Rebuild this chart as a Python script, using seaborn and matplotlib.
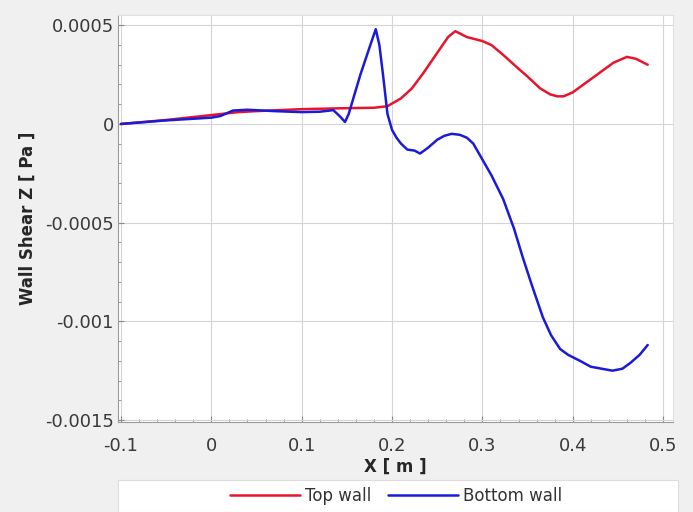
import numpy as np
import pandas as pd
import seaborn as sns
import matplotlib.pyplot as plt
from matplotlib.ticker import MultipleLocator, FuncFormatter
from matplotlib.patches import Rectangle

# Top wall
top_x = [-0.1, -0.05, 0.0, 0.03, 0.05, 0.1, 0.15, 0.18, 0.195, 0.21, 0.222, 0.235,
         0.25, 0.262, 0.27, 0.283, 0.30, 0.31, 0.323, 0.34, 0.35, 0.364, 0.375,
         0.383, 0.39, 0.40, 0.415, 0.43, 0.445, 0.46, 0.47, 0.483]
top_y = [0, 0.00002, 0.000045, 0.00006, 0.000065, 0.000075, 0.00008, 0.000082,
         0.00009, 0.00013, 0.00018, 0.00026, 0.00036, 0.00044, 0.00047, 0.00044,
         0.00042, 0.0004, 0.00035, 0.00028, 0.00024, 0.00018, 0.00015, 0.00014,
         0.00014, 0.00016, 0.00021, 0.00026, 0.00031, 0.00034, 0.00033, 0.0003]

# Bottom wall
bot_x = [-0.1, -0.05, 0.0, 0.01, 0.024, 0.04, 0.07, 0.1, 0.12, 0.135, 0.142, 0.148,
         0.152, 0.165, 0.176, 0.182, 0.186, 0.19, 0.195, 0.2, 0.205, 0.21, 0.217,
         0.225, 0.231, 0.24, 0.25, 0.258, 0.266, 0.275, 0.283, 0.29, 0.30, 0.31,
         0.323, 0.335, 0.345, 0.355, 0.367, 0.376, 0.386, 0.395, 0.408, 0.42,
         0.432, 0.444, 0.455, 0.464, 0.474, 0.483]
bot_y = [0, 0.000018, 0.000032, 0.00004, 0.000068, 0.000072, 0.000065, 0.00006,
         0.000062, 0.00007, 0.00004, 0.00001, 0.00005, 0.00025, 0.0004, 0.00048,
         0.0004, 0.00025, 0.00005, -0.00003, -0.00007, -0.0001, -0.00013, -0.000135,
         -0.00015, -0.00012, -0.00008, -0.00006, -0.00005, -0.000055, -0.00007,
         -0.0001, -0.00018, -0.00026, -0.00038, -0.00053, -0.00068, -0.00082,
         -0.00098, -0.00107, -0.00114, -0.00117, -0.0012, -0.00123, -0.00124,
         -0.00125, -0.00124, -0.00121, -0.00117, -0.00112]

df = pd.concat([
    pd.DataFrame({'x': top_x, 'y': top_y, 'wall': 'Top wall'}),
    pd.DataFrame({'x': bot_x, 'y': bot_y, 'wall': 'Bottom wall'}),
])

sns.set_style('whitegrid', {'grid.color': '#d4d4d4', 'axes.edgecolor': '#9a9a9a'})
plt.rcParams['font.family'] = ['DejaVu Sans']

fig = plt.figure(figsize=(6.93, 5.12), dpi=100, facecolor='#f0f0f0')
ax = fig.add_axes([118/693, 1 - 422/512, (673-118)/693, (422-15)/512])
ax.set_facecolor('white')

sns.lineplot(data=df, x='x', y='y', hue='wall', ax=ax, linewidth=1.8,
             palette={'Top wall': '#e8142c', 'Bottom wall': '#1a1ad8'}, legend=False)

ax.set_xlim(-0.1033, 0.511)
ax.set_ylim(-0.00151, 0.000552)
ax.xaxis.set_major_locator(MultipleLocator(0.1))
ax.xaxis.set_minor_locator(MultipleLocator(0.02))
ax.yaxis.set_major_locator(MultipleLocator(0.0005))
ax.yaxis.set_minor_locator(MultipleLocator(0.0001))

def fmt(v, pos):
    s = ('%.4f' % v).rstrip('0').rstrip('.')
    return '0' if s in ('0', '-0') else s
ax.xaxis.set_major_formatter(FuncFormatter(fmt))
ax.yaxis.set_major_formatter(FuncFormatter(fmt))

ax.tick_params(which='both', direction='in', color='#8a8a8a', labelsize=13,
               labelcolor='#3a3a3a', left=True, bottom=True)
ax.tick_params(which='major', length=4, pad=3)
ax.tick_params(axis='x', which='major', pad=11)
ax.tick_params(which='minor', length=2.5)
ax.grid(True, which='major', linewidth=0.8)
for s in ['top', 'right']:
    ax.spines[s].set_color('#e0e0e0')

ax.set_xlabel('X [ m ]', fontsize=12, fontweight='bold', labelpad=2)
ax.set_ylabel('Wall Shear Z [ Pa ]', fontsize=12, fontweight='bold', labelpad=6)

# legend box at bottom
fig.patches.append(Rectangle((118/693, 0), (678-118)/693, 32/512,
                             transform=fig.transFigure, facecolor='white',
                             edgecolor='#dddddd', linewidth=0.8))
handles = [plt.Line2D([], [], color='#e8142c', lw=1.8),
           plt.Line2D([], [], color='#1a1ad8', lw=1.8)]
fig.legend(handles, ['Top wall', 'Bottom wall'], loc='center',
           bbox_to_anchor=(396/693, 16/512), ncol=2, frameon=False,
           fontsize=12, handlelength=4.2, handletextpad=0.3, columnspacing=1.0,
           labelcolor='#333333')

fig.savefig('out.png', dpi=100, facecolor=fig.get_facecolor())
